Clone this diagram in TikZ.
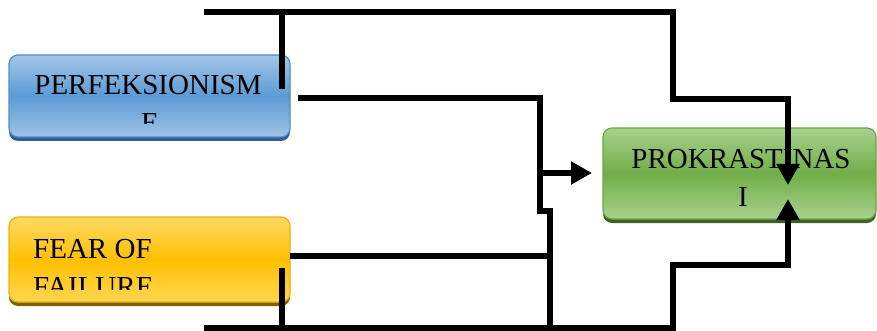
\documentclass[tikz,border=0pt]{standalone}
\usepackage{fontspec}
\setmainfont{Liberation Serif}
\usetikzlibrary{arrows.meta,calc}
\definecolor{bTop}{HTML}{A3C6E8}\definecolor{bMid}{HTML}{5B9BD5}\definecolor{bBot}{HTML}{A0C4E6}
\definecolor{bLine}{HTML}{4F8CCC}\definecolor{bShad}{HTML}{2F5F8F}
\definecolor{yTop}{HTML}{FFD966}\definecolor{yMid}{HTML}{FFC000}\definecolor{yBot}{HTML}{FFD654}
\definecolor{yLine}{HTML}{F0B400}\definecolor{yShad}{HTML}{7F6000}
\definecolor{gTop}{HTML}{A9D18E}\definecolor{gMid}{HTML}{70AD47}\definecolor{gBot}{HTML}{A9D18E}
\definecolor{gLine}{HTML}{6AA544}\definecolor{gShad}{HTML}{3B6325}
\tikzset{
  boxbase/.style={rectangle, rounded corners=9pt, line width=1.2pt, inner sep=0pt},
  bluebox/.style={boxbase, draw=bLine, top color=bTop, bottom color=bBot, middle color=bMid,
     preaction={fill=bShad, transform canvas={yshift=-4pt}}},
  yellowbox/.style={boxbase, draw=yLine, top color=yTop, bottom color=yBot, middle color=yMid,
     preaction={fill=yShad, transform canvas={yshift=-4pt}}},
  greenbox/.style={boxbase, draw=gLine, top color=gTop, bottom color=gBot, middle color=gMid,
     preaction={fill=gShad, transform canvas={yshift=-4pt}}},
  lbl/.style={inner sep=0pt, font=\fontsize{29}{38}\selectfont, anchor=base},
  lblw/.style={inner sep=0pt, font=\fontsize{29}{38}\selectfont, anchor=base west},
  conn/.style={line width=6.5pt, line join=miter, draw=black},
  arr/.style={conn, -{Triangle[length=21pt, width=22pt]}}
}
\begin{document}
\begin{tikzpicture}[x=1pt, y=-1pt]
\useasboundingbox (0,0) rectangle (877,331);
% boxes
\node[bluebox, minimum width=281pt, minimum height=82pt] (perf) at (149.5,96) {};
\node[yellowbox, minimum width=281pt, minimum height=85pt] (fear) at (149.5,259.5) {};
\node[greenbox, minimum width=273pt, minimum height=91pt] (prok) at (739.5,173.5) {};
% texts (clipped inside their boxes)
\begin{scope}
  \clip (perf.north west) rectangle ($(perf.south east)+(0,-14)$);
  \node[lbl] (perf1) at (148,95) {PERFEKSIONISM};
  \node[lbl] (perf2) at (150,133) {E};
\end{scope}
\begin{scope}
  \clip (fear.north west) rectangle ($(fear.south east)+(0,-13)$);
  \node[lblw] (fear1) at (33,258) {FEAR OF};
  \node[lblw] (fear2) at (33,296) {FAILURE};
\end{scope}
\begin{scope}
  \clip (prok.north west) rectangle ($(prok.south east)+(0,-10)$);
  \node[lbl] (prok1) at (741,168) {PROKRASTINAS};
  \node[lbl] (prok2) at (743,206) {I};
\end{scope}
% connector points
\coordinate (t1) at (204,12);
\coordinate (t2) at (673,12);
\coordinate (t3) at (673,99);
\coordinate (t4) at (788,99);
\coordinate (gtop) at (788,185);
\coordinate (v1a) at (282,12);
\coordinate (v1b) at (282,89);
\coordinate (p1) at (298,98);
\coordinate (p2) at (540,98);
\coordinate (p3) at (540,211);
\coordinate (p4) at (550,211);
\coordinate (p5) at (550,328);
\coordinate (br) at (540,173);
\coordinate (gleft) at (592,173);
\coordinate (f1) at (290,256);
\coordinate (f2) at (550,256);
\coordinate (v2a) at (282,268);
\coordinate (v2b) at (282,328);
\coordinate (b1) at (204,328);
\coordinate (b2) at (673,328);
\coordinate (b3) at (673,265);
\coordinate (b4) at (788,265);
\coordinate (gbot) at (788,199);
% connectors
\draw[arr] (t1) -- (t2) -- (t3) -- (t4) -- (gtop);
\draw[conn] (v1a) -- (v1b);
\draw[conn] (p1) -- (p2) -- (p3) -- (p4) -- (p5);
\draw[arr] (br) -- (gleft);
\draw[conn] (f1) -- (f2);
\draw[conn] (v2a) -- (v2b);
\draw[arr] (b1) -- (b2) -- (b3) -- (b4) -- (gbot);
\end{tikzpicture}
\end{document}
